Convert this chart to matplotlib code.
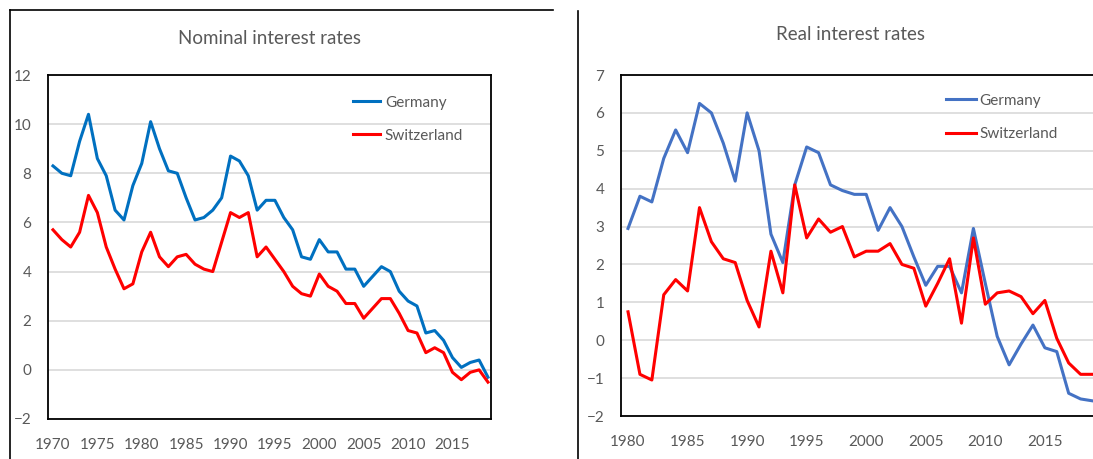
import matplotlib
matplotlib.use('Agg')
from matplotlib import pyplot as plt
from matplotlib.lines import Line2D

plt.rcParams['font.family'] = ['Lato', 'DejaVu Sans']

years_nom = list(range(1970, 2020))
germany_nom = [8.3, 8.0, 7.9, 9.3, 10.4, 8.6, 7.9, 6.5, 6.1, 7.5,
               8.4, 10.1, 9.0, 8.1, 8.0, 7.0, 6.1, 6.2, 6.5, 7.0,
               8.7, 8.5, 7.9, 6.5, 6.9, 6.9, 6.2, 5.7, 4.6, 4.5,
               5.3, 4.8, 4.8, 4.1, 4.1, 3.4, 3.8, 4.2, 4.0, 3.2,
               2.8, 2.6, 1.5, 1.6, 1.2, 0.5, 0.1, 0.3, 0.4, -0.3]
swiss_nom = [5.7, 5.3, 5.0, 5.6, 7.1, 6.4, 5.0, 4.1, 3.3, 3.5,
             4.8, 5.6, 4.6, 4.2, 4.6, 4.7, 4.3, 4.1, 4.0, 5.2,
             6.4, 6.2, 6.4, 4.6, 5.0, 4.5, 4.0, 3.4, 3.1, 3.0,
             3.9, 3.4, 3.2, 2.7, 2.7, 2.1, 2.5, 2.9, 2.9, 2.3,
             1.6, 1.5, 0.7, 0.9, 0.7, -0.1, -0.4, -0.1, 0.0, -0.5]

years_real = list(range(1980, 2020))
germany_real = [2.95, 3.8, 3.65, 4.8, 5.55, 4.95, 6.25, 6.0, 5.2, 4.2,
                6.0, 5.0, 2.8, 2.05, 4.1, 5.1, 4.95, 4.1, 3.95, 3.85,
                3.85, 2.9, 3.5, 3.0, 2.2, 1.45, 1.95, 1.95, 1.25, 2.95,
                1.5, 0.1, -0.65, -0.1, 0.4, -0.2, -0.3, -1.4, -1.55, -1.6]
swiss_real = [0.75, -0.9, -1.05, 1.2, 1.6, 1.3, 3.5, 2.6, 2.15, 2.05,
              1.05, 0.35, 2.35, 1.25, 4.1, 2.7, 3.2, 2.85, 3.0, 2.2,
              2.35, 2.35, 2.55, 2.0, 1.9, 0.9, 1.5, 2.15, 0.45, 2.7,
              0.95, 1.25, 1.3, 1.15, 0.7, 1.05, 0.05, -0.6, -0.9, -0.9]

grey = '#595959'
W, H = 1093, 459
fig = plt.figure(figsize=(W / 100, H / 100), dpi=100)


def style(ax, yticks, xticks):
    ax.set_yticks(yticks)
    ax.set_xticks(xticks)
    ax.grid(axis='y', color='#D9D9D9', linewidth=1.2)
    ax.set_axisbelow(True)
    ax.tick_params(length=0, labelsize=11, labelcolor=grey)
    ax.tick_params(axis='y', pad=12)
    ax.tick_params(axis='x', pad=14)
    for s in ax.spines.values():
        s.set_color('black')
        s.set_linewidth(1.3)


# left panel
ax1 = fig.add_axes([48 / W, 1 - 419 / H, 443 / W, 344 / H])
ax1.plot(years_nom, germany_nom, color='#0070C0', lw=2.2, label='Germany')
ax1.plot(years_nom, swiss_nom, color='#FF0000', lw=2.2, label='Switzerland')
ax1.set_xlim(1969.44, 2019.34)
ax1.set_ylim(-2, 12)
style(ax1, range(-2, 13, 2), range(1970, 2016, 5))
ax1.set_title('Nominal interest rates', fontsize=13.5, color=grey, pad=22)
leg = ax1.legend(loc='upper left', bbox_to_anchor=(0.688, 0.94), frameon=False,
                 borderpad=0, borderaxespad=0, handlelength=1.8, handletextpad=0.3,
                 labelspacing=1.25, fontsize=11)
for t in leg.get_texts():
    t.set_color(grey)

# right panel
ax2 = fig.add_axes([621 / W, 1 - 416 / H, 479 / W, 341 / H])
ax2.plot(years_real, germany_real, color='#4472C4', lw=2.2, label='Germany')
ax2.plot(years_real, swiss_real, color='#FF0000', lw=2.2, label='Switzerland')
ax2.set_xlim(1979.41, 2019.63)
ax2.set_ylim(-2, 7)
style(ax2, range(-2, 8), range(1980, 2016, 5))
ax2.set_title('Real interest rates', fontsize=13.5, color=grey, pad=25, x=0.48)
leg = ax2.legend(loc='upper left', bbox_to_anchor=(0.678, 0.945), frameon=False,
                 borderpad=0, borderaxespad=0, handlelength=2.0, handletextpad=0.2,
                 labelspacing=1.25, fontsize=11)
for t in leg.get_texts():
    t.set_color(grey)

# panel borders
fig.add_artist(Line2D([10 / W, 553 / W], [1 - 10 / H, 1 - 10 / H], color='black', lw=1.2))
fig.add_artist(Line2D([10 / W, 10 / W], [0, 1 - 10 / H], color='black', lw=1.2))
fig.add_artist(Line2D([578 / W, 578 / W], [0, 1 - 11 / H], color='black', lw=1.2))

fig.savefig('out.png', dpi=100)
